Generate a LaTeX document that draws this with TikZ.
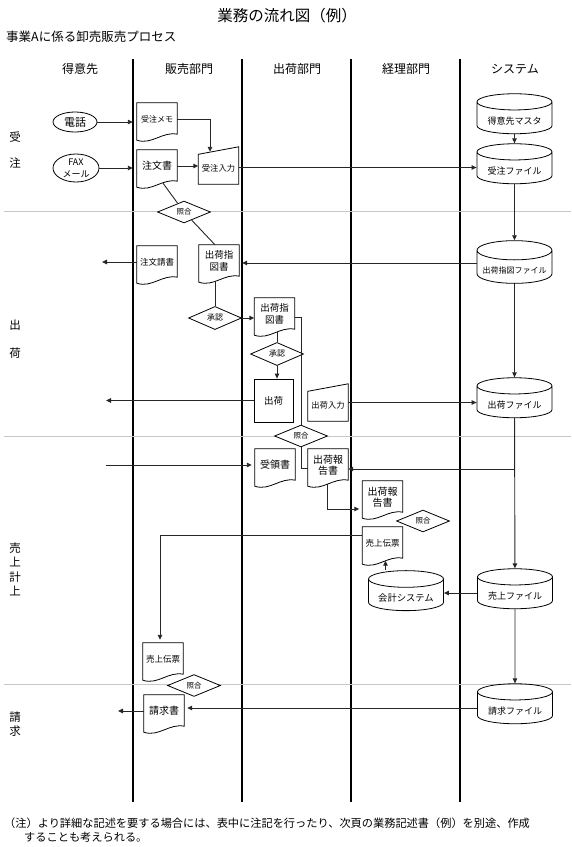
\documentclass[tikz,border=0pt]{standalone}
\usepackage{fontspec}
\setmainfont{Noto Sans CJK JP}
\usetikzlibrary{shapes.geometric,arrows.meta,positioning,calc}
\newcommand{\fsz}[1]{\fontsize{#1pt}{1.2\dimexpr#1pt\relax}\selectfont}
\tikzset{
  %Define standard arrow tip
  >={Triangle[length=5pt,width=4.5pt]},
  %Define style for lanes and phase separators
  lane/.style={line width=1.8pt},
  sep/.style={draw=black!22, line width=0.8pt},
  %Define style for connectors
  conn/.style={draw=black!85, line width=0.9pt},
  pil/.style={conn, ->},
  %Define style for boxes
  doc/.style={rectangle, minimum width=40pt, minimum height=32pt, inner sep=0pt,
    align=center, font=\fsz{10}},
  entry/.style={rectangle, minimum width=40pt, minimum height=37pt, inner sep=0pt,
    text height=12pt, text depth=0pt, font=\fsz{8.3}},
  task/.style={rectangle, draw, line width=0.8pt, minimum width=39pt,
    minimum height=43pt, font=\fsz{9.5}},
  check/.style={diamond, draw, line width=0.8pt, fill=white, minimum width=53pt,
    minimum height=19pt, inner sep=0pt, font=\fsz{7.5}},
  party/.style={ellipse, draw, line width=0.8pt, inner xsep=0pt, inner ysep=-4pt,
    align=center},
  store/.style={cylinder, shape border rotate=90, aspect=0.3, draw, line width=0.8pt,
    minimum width=75pt, minimum height=40pt, inner sep=0pt, text height=13.5pt,
    text depth=0pt, font=\fsz{9}},
  head/.style={font=\fsz{12}},
  phase/.style={font=\fontsize{11.5pt}{14.4pt}\selectfont, inner sep=0pt, align=center}
}
% outline of a document box with a wavy bottom
\newcommand{\docline}[1]{%
  \draw[line width=0.8pt] (#1.north west) -- ([yshift=-5pt]#1.south west)
    .. controls ([xshift=15pt,yshift=-10pt]#1.south west) and ([xshift=-15pt,yshift=4pt]#1.south east)
    .. ([yshift=1pt]#1.south east) -- (#1.north east) -- cycle;}
% outline of a manual input box
\newcommand{\inputline}[1]{%
  \draw[line width=0.8pt] (#1.south west) -- ([yshift=-7.5pt]#1.north west)
    -- (#1.north east) -- (#1.south east) -- cycle;}
\begin{document}
\begin{tikzpicture}[x=1pt,y=-1pt]
  \useasboundingbox (0,0) rectangle (571,847);
  % headings
  \node[font=\fsz{15.5}] (title) at (287,16) {業務の流れ図（例）};
  \node[font=\fsz{12.5}, anchor=west, inner sep=0pt] (subtitle) at (6,37) {事業Aに係る卸売販売プロセス};
  \node[head] (hcust) at (80,69) {得意先};
  \node[head] (hsales) at (189,69) {販売部門};
  \node[head] (hship) at (297,69) {出荷部門};
  \node[head] (hacct) at (406,69) {経理部門};
  \node[head] (hsys) at (515,69) {システム};
  % lanes and phases
  \foreach \x in {133,242,351,460} \draw[lane] (\x,59) -- (\x,802);
  \foreach \y in {211,436,684} \draw[sep] (4,\y) -- (571,\y);
  \node[phase] (ph1a) at (15,137) {受};
  \node[phase] (ph1b) at (15,163) {注};
  \node[phase] (ph2a) at (15,325) {出};
  \node[phase] (ph2b) at (15,353) {荷};
  \node[phase] (ph3) at (15,569.5) {売\\上\\計\\上};
  \node[phase] (ph4) at (15,724) {請\\求};
  % customer
  \node[party, minimum width=44pt, minimum height=20pt, font=\fsz{11}] (tel) at (75,122) {電話};
  \node[party, minimum width=46pt, minimum height=28pt, font=\fontsize{9pt}{12.3pt}\selectfont] (fax) at (76,168) {FAX\\メール};
  \coordinate (ackout) at (102,264);
  \coordinate (shipout) at (106,402);
  \coordinate (rcptin) at (106,465);
  \coordinate (billout) at (118,711);
  % sales department
  \node[doc, font=\fsz{8}] (memo) at (157,119) {受注メモ};
  \node[doc] (order) at (157,166) {注文書};
  \node[entry] (entry) at (218.5,165.5) {受注入力};
  \node[doc, font=\fsz{8.5}] (ack) at (157,262) {注文請書};
  \node[doc, font=\fontsize{9.5pt}{11.5pt}\selectfont] (sinst) at (219,261) {出荷指\\図書};
  \node[doc, font=\fsz{8.5}] (slip2) at (163,659) {売上伝票};
  \node[doc] (invoice) at (164,711) {請求書};
  % shipping department
  \node[doc, font=\fontsize{9.5pt}{11.5pt}\selectfont] (hinst) at (274.5,314) {出荷指\\図書};
  \node[task] (ship) at (273.5,400.5) {出荷};
  \node[entry] (hentry) at (328,402.5) {出荷入力};
  \node[doc] (receipt) at (275,465) {受領書};
  \node[doc, font=\fontsize{10pt}{11.5pt}\selectfont] (hrep) at (328,465) {出荷報\\告書};
  % accounting department
  \node[doc, font=\fontsize{10pt}{11.5pt}\selectfont] (arep) at (382.5,497) {出荷報\\告書};
  \node[doc, font=\fsz{8.5}] (aslip) at (382.5,543) {売上伝票};
  \node[store, font=\fsz{9.3}] (acct) at (406,595) {会計システム};
  % system
  \node[store] (master) at (514.5,118) {得意先マスタ};
  \node[store] (orderf) at (514.5,168) {受注ファイル};
  \node[store, font=\fsz{8}] (instf) at (514.5,267) {出荷指図ファイル};
  \node[store] (shipf) at (514.5,402) {出荷ファイル};
  \node[store] (salesf) at (515,593) {売上ファイル};
  \node[store] (billf) at (515,708) {請求ファイル};
  % checks
  \node[check] (chk1) at (184,212) {照合};
  \node[check, font=\fsz{8}] (app1) at (215,318) {承認};
  \node[check, font=\fsz{8}] (app2) at (277,354) {承認};
  \node[check] (chk2) at (301,436) {照合};
  \node[check] (chk3) at (423,521) {照合};
  \node[check] (chk4) at (194,685.5) {照合};
  % outlines
  \foreach \n in {memo,order,ack,sinst,slip2,invoice,hinst,receipt,hrep,arep,aslip} {\docline{\n}}
  \foreach \n in {entry,hentry} {\inputline{\n}}
  % order intake
  \draw[pil, shorten >=4pt] (tel.east) -- (tel.east -| memo.west);
  \draw[pil, shorten >=4pt] (fax.east) -- (fax.east -| order.west);
  \draw[pil] (order.east) -- (order.east -| entry.west);
  \draw[pil] (memo.east) -| ([xshift=-8.5pt,yshift=-5pt]entry.north);
  \draw[pil] ([yshift=-2pt]entry.east) -- ([yshift=-2pt]entry.east -| orderf.west);
  \draw[pil] (master) -- (orderf);
  \draw[conn] ([xshift=6pt,yshift=-1pt]order.south) -- (chk1);
  \draw[conn] (chk1) -- ([xshift=-4pt]sinst.north);
  % shipping
  \draw[pil] (orderf) -- (instf);
  \draw[pil, shorten >=3pt] ([yshift=-2pt]sinst.east -| instf.west) -- ([yshift=-2pt]sinst.east);
  \draw[pil] (ack.west) -- (ack.west -| ackout);
  \draw[conn] ([xshift=-4pt,yshift=-4pt]sinst.south) -- (app1.north);
  \draw[pil] (app1.east) -- (app1.east -| hinst.west);
  \draw[conn] ([yshift=-1.5pt]hinst.south -| app2.north) -- (app2.north);
  \draw[pil] (app2.south) -- (app2.south |- ship.north);
  \draw[pil] (ship.west) -- (ship.west -| shipout);
  \draw[pil] (hentry.east) -- (hentry.east -| shipf.west);
  \draw[pil] (instf) -- (shipf);
  \draw[conn] ([yshift=-3pt]hinst.east) -| (chk2.north);
  % sales booking
  \draw[conn] (chk2.south) |- ([yshift=-3pt]hrep.west);
  \draw[pil, shorten >=3pt] (rcptin) -- (rcptin -| receipt.west);
  \draw[pil] (shipf) -- (salesf);
  \draw[pil] ([yshift=-4pt]hrep.east -| salesf.north) -- ([yshift=-4pt]hrep.east);
  \draw[pil, shorten >=3pt] ([xshift=-1pt,yshift=-2.75pt]hrep.south) |- ([yshift=-12pt]arep.west);
  \draw[pil, shorten >=3pt] ([yshift=8pt]aslip.west) -| ([xshift=-3pt]slip2.north);
  \draw[pil] ([xshift=3pt]aslip.south |- acct.north) -- ([xshift=3pt,yshift=-1.5pt]aslip.south);
  \draw[pil] (salesf.west) -- (salesf.west -| acct.east);
  % billing
  \draw[pil] (salesf) -- (billf);
  \draw[pil, shorten >=3pt] (billf.west) -- (billf.west -| invoice.east);
  \draw[pil] (invoice.west) -- (invoice.west -| billout);
  % note
  \node[font=\fsz{11.2}, anchor=west, inner sep=0pt] (note1) at (4,823) {（注）より詳細な記述を要する場合には、表中に注記を行ったり、次頁の業務記述書（例）を別途、作成};
  \node[font=\fsz{11.2}, anchor=west, inner sep=0pt] (note2) at (24,837) {することも考えられる。};
\end{tikzpicture}
\end{document}
